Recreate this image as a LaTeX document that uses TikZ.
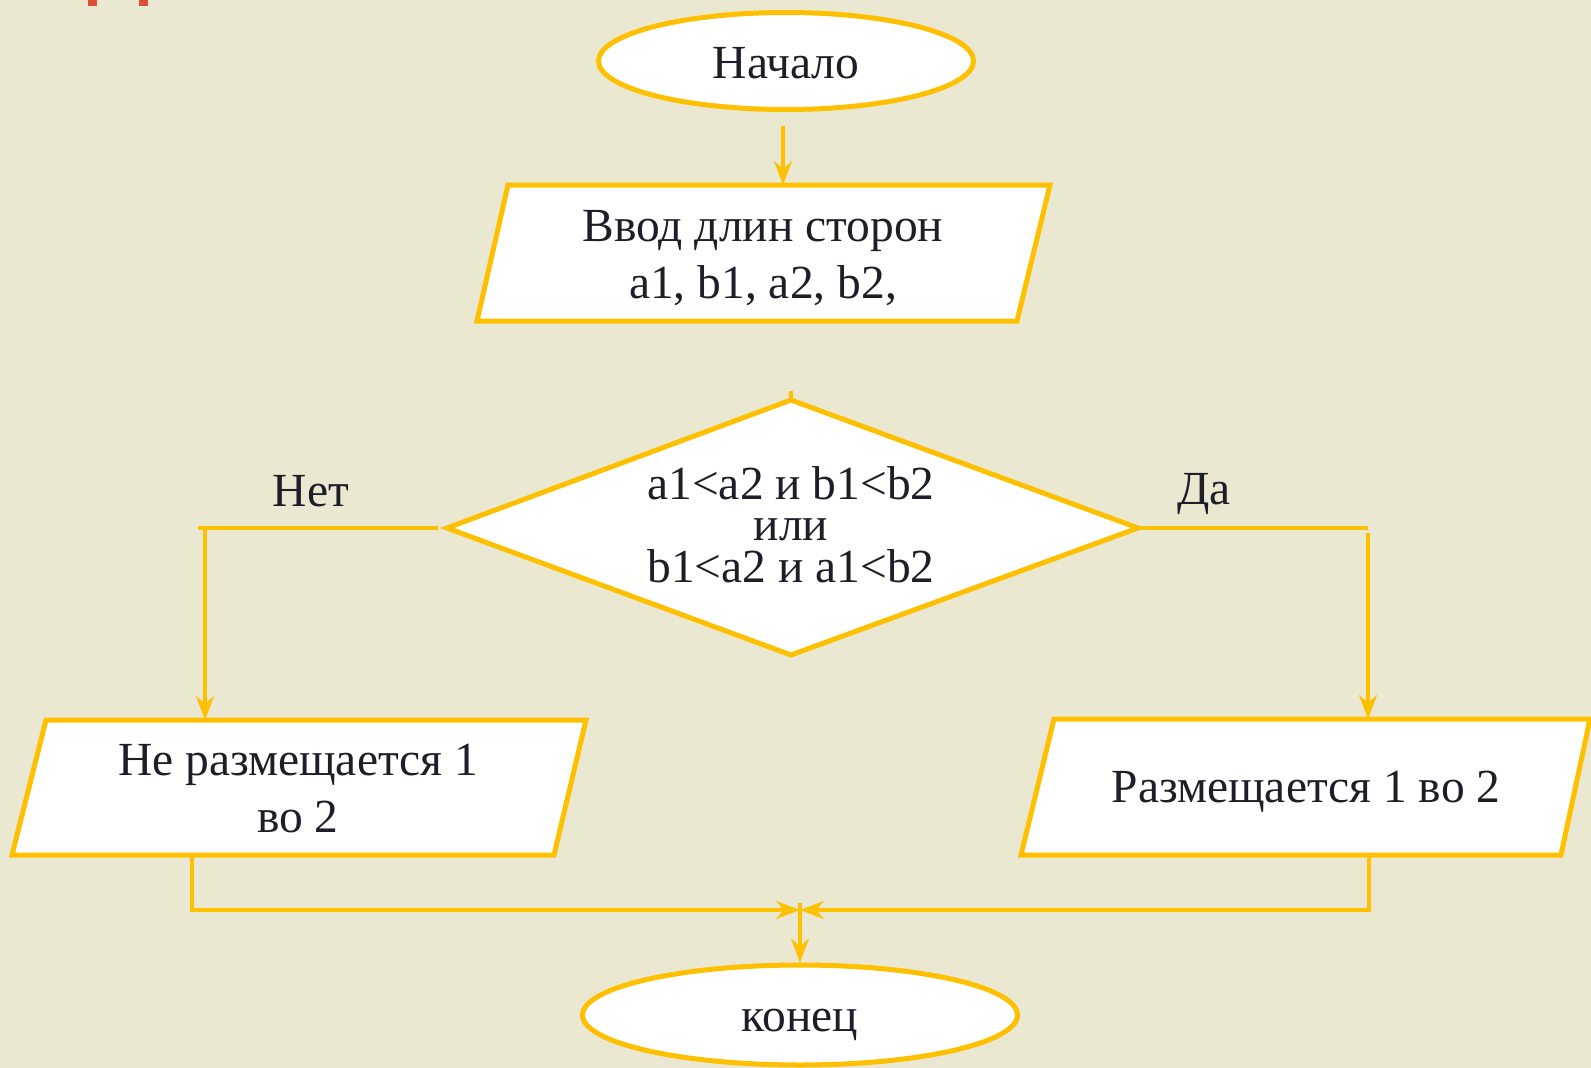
\documentclass[tikz,border=0pt]{standalone}
\usepackage{fontspec}
\setmainfont{Liberation Serif}
\usetikzlibrary{shapes.geometric,arrows.meta,calc}
\definecolor{paper}{HTML}{EBE8D2}
\definecolor{gold}{HTML}{FFC000}
\definecolor{ink}{HTML}{1E1E28}
\definecolor{titlered}{HTML}{DD4F36}
\begin{document}
\begin{tikzpicture}[x=1pt,y=-1pt,
  shapeline/.style={draw=gold,line width=5pt,fill=white,line join=miter},
  flow/.style={draw=gold,line width=3.5pt},
  arr/.style={flow,-{Stealth[length=24pt,width=18pt,inset=8pt]}},
  txt/.style={text=ink,font=\fontsize{47.5}{57}\selectfont,align=center,inner sep=0pt},
  terminal/.style={shapeline,ellipse,inner sep=0pt}
]
% page
\fill[paper] (0,0) rectangle (1591,1068);
\useasboundingbox (0,0) rectangle (1591,1068);
% remnants of the heading above the chart
\fill[titlered] (88,0) rectangle (97,6);
\fill[titlered] (139,0) rectangle (148,6);

% terminals
\node[terminal,minimum width=375pt,minimum height=97pt] (start) at (786,61) {};
\node[txt] (starttxt) at (786,63) {Начало};
\node[terminal,minimum width=435pt,minimum height=100pt] (stop) at (800,1015) {};
\node[txt] (stoptxt) at (800,1025) {конец};

% input block
\coordinate (inTL) at (508,185); \coordinate (inTR) at (1050,185);
\coordinate (inBR) at (1017,321); \coordinate (inBL) at (477,321);
\draw[shapeline] (inTL) -- (inTR) -- (inBR) -- (inBL) -- cycle;
\node[txt] (input) at (763,258) {Ввод длин сторон\\a1, b1, a2, b2,};

% decision
\coordinate (dT) at (791,400); \coordinate (dR) at (1138,528);
\coordinate (dB) at (791,655); \coordinate (dL) at (447,528);
\draw[shapeline] (dT) -- (dR) -- (dB) -- (dL) -- cycle;
\node[txt] (cond1) at (791,483) {a1<a2 и b1<b2};
\node[txt] (cond2) at (791,530) {или};
\node[txt] (cond3) at (791,566) {b1<a2 и a1<b2};

% output blocks
\coordinate (nTL) at (46,720); \coordinate (nTR) at (586,720);
\coordinate (nBR) at (554,855); \coordinate (nBL) at (12,855);
\draw[shapeline] (nTL) -- (nTR) -- (nBR) -- (nBL) -- cycle;
\node[txt] (no) at (298,789) {Не размещается 1\\во 2};

\coordinate (yTL) at (1054,719); \coordinate (yTR) at (1590,719);
\coordinate (yBR) at (1561,855); \coordinate (yBL) at (1021,855);
\draw[shapeline] (yTL) -- (yTR) -- (yBR) -- (yBL) -- cycle;
\node[txt] (yes) at (1306,792) {Размещается 1 во 2};

% branch labels
\node[txt] (nolbl) at (311,491) {Нет};
\node[txt] (yeslbl) at (1204,494) {Да};

% connectors
\draw[arr] ($(start.south)+(-3,14)$) -- (inTL -| {$(start.south)+(-3,0)$});
\draw[flow] (dT) -- ++(0,-9);

\coordinate (noTurn) at (205,528);
\draw[flow] ($(dL)+(-9,0)$) -- (198,528);
\draw[arr] (noTurn) -- (noTurn |- nTL);

\coordinate (yesTurn) at (1368,528);
\draw[flow] (dR) -- (yesTurn);
\draw[arr] ($(yesTurn)+(0,5)$) -- (yesTurn |- yTL);

\coordinate (merge) at (800,910);
\coordinate (noDrop) at (192,857);
\coordinate (yesDrop) at (1369,857);
\draw[arr] (noDrop) |- (merge);
\draw[arr] (yesDrop) |- (merge);
\draw[arr] ($(merge)+(0,-7)$) -- (stop.north);
\end{tikzpicture}
\end{document}
